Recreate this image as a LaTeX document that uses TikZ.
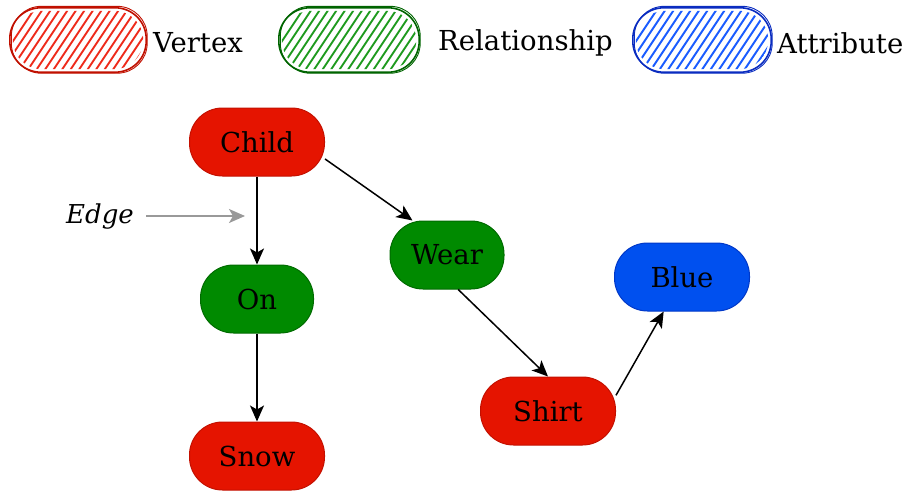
\documentclass[tikz,border=0pt]{standalone}
\usepackage{fontspec}
\setmainfont{DejaVu Serif}
\usetikzlibrary{arrows.meta}

\definecolor{vfill}{HTML}{E51400}
\definecolor{vline}{HTML}{C41000}
\definecolor{rfill}{HTML}{008A00}
\definecolor{rline}{HTML}{006B00}
\definecolor{afill}{HTML}{0050EF}
\definecolor{aline}{HTML}{0038C8}
\definecolor{hatchred}{HTML}{EE2A1A}
\definecolor{strokered}{HTML}{C01000}
\definecolor{hatchgreen}{HTML}{1E9A1E}
\definecolor{strokegreen}{HTML}{006400}
\definecolor{hatchblue}{HTML}{1A5CFF}
\definecolor{strokeblue}{HTML}{0A2CC0}
\definecolor{edgegray}{HTML}{999999}

\begin{document}
\begin{tikzpicture}[x=1pt,y=-1pt,
  pill/.style={rounded corners=33pt, minimum height=68pt, inner sep=0pt,
               line width=1pt, font=\fontsize{27.5}{32}\selectfont},
  vertex/.style={pill, fill=vfill, draw=vline, minimum width=135pt},
  relation/.style={pill, fill=rfill, draw=rline, minimum width=114pt},
  attribute/.style={pill, fill=afill, draw=aline, minimum width=135pt},
  legendbox/.style={minimum height=64pt, inner sep=0pt},
  legendtext/.style={anchor=west, inner sep=0pt, font=\fontsize{27.5}{32}\selectfont},
  link/.style={line width=1.5pt, -{Stealth[length=16pt,width=14pt,inset=4pt]}},
  hint/.style={line width=1.5pt, edgegray, -{Stealth[length=16pt,width=14pt,inset=4pt]}}
]
\useasboundingbox (0,0) rectangle (908,491);

% legend
\node[legendbox, minimum width=136pt] (lv) at (78,40) {};
\node[legendbox, minimum width=140pt] (lr) at (349,40) {};
\node[legendbox, minimum width=138pt] (la) at (702,40) {};
\foreach \nm/\hc/\sc in {lv/hatchred/strokered, lr/hatchgreen/strokegreen, la/hatchblue/strokeblue} {
  \begin{scope}
    \clip[rounded corners=29pt] ([shift={(3pt,3pt)}]\nm.south west) rectangle ([shift={(-3pt,-3pt)}]\nm.north east);
    \foreach \k in {0,...,26}
      \draw[\hc, line width=1.9pt] ([xshift=\k*8.5pt-60pt]\nm.south west) -- ++(44pt,66pt);
  \end{scope}
  \draw[\sc, line width=1.6pt, rounded corners=31pt] (\nm.south west) rectangle (\nm.north east);
  \draw[\sc, line width=0.9pt, rounded corners=30pt] ([shift={(1.5pt,-1pt)}]\nm.south west) rectangle ([shift={(1pt,1.5pt)}]\nm.north east);
}
\node[legendtext] (tv) at (153,43) {Vertex};
\node[legendtext] (tr) at (438,43) {Relationship};
\node[legendtext] (ta) at (777,43) {Attribute};

% graph
\node[vertex] (child) at (257,142) {Child};
\node[relation, minimum width=113pt] (on) at (257,299) {On};
\node[vertex] (snow) at (257,456) {Snow};
\node[relation] (wear) at (447,255) {Wear};
\node[vertex] (shirt) at (548,411) {Shirt};
\node[attribute] (blue) at (682,277) {Blue};

\draw[link] (child) -- (on);
\draw[link] (on) -- (snow);
\draw[link] (child.-14) -- (wear.135);
\draw[link] (wear.-72) -- (shirt.north);
\draw[link] (shirt.13) -- (blue.-118);

% annotation
\node[font=\itshape\fontsize{26}{30}\selectfont, inner sep=0pt] (edgelbl) at (100,217) {Edge};
\coordinate (edgetip) at (245,216);
\draw[hint] ([xshift=12pt,yshift=1pt]edgelbl.east) -- (edgetip);
\end{tikzpicture}
\end{document}
